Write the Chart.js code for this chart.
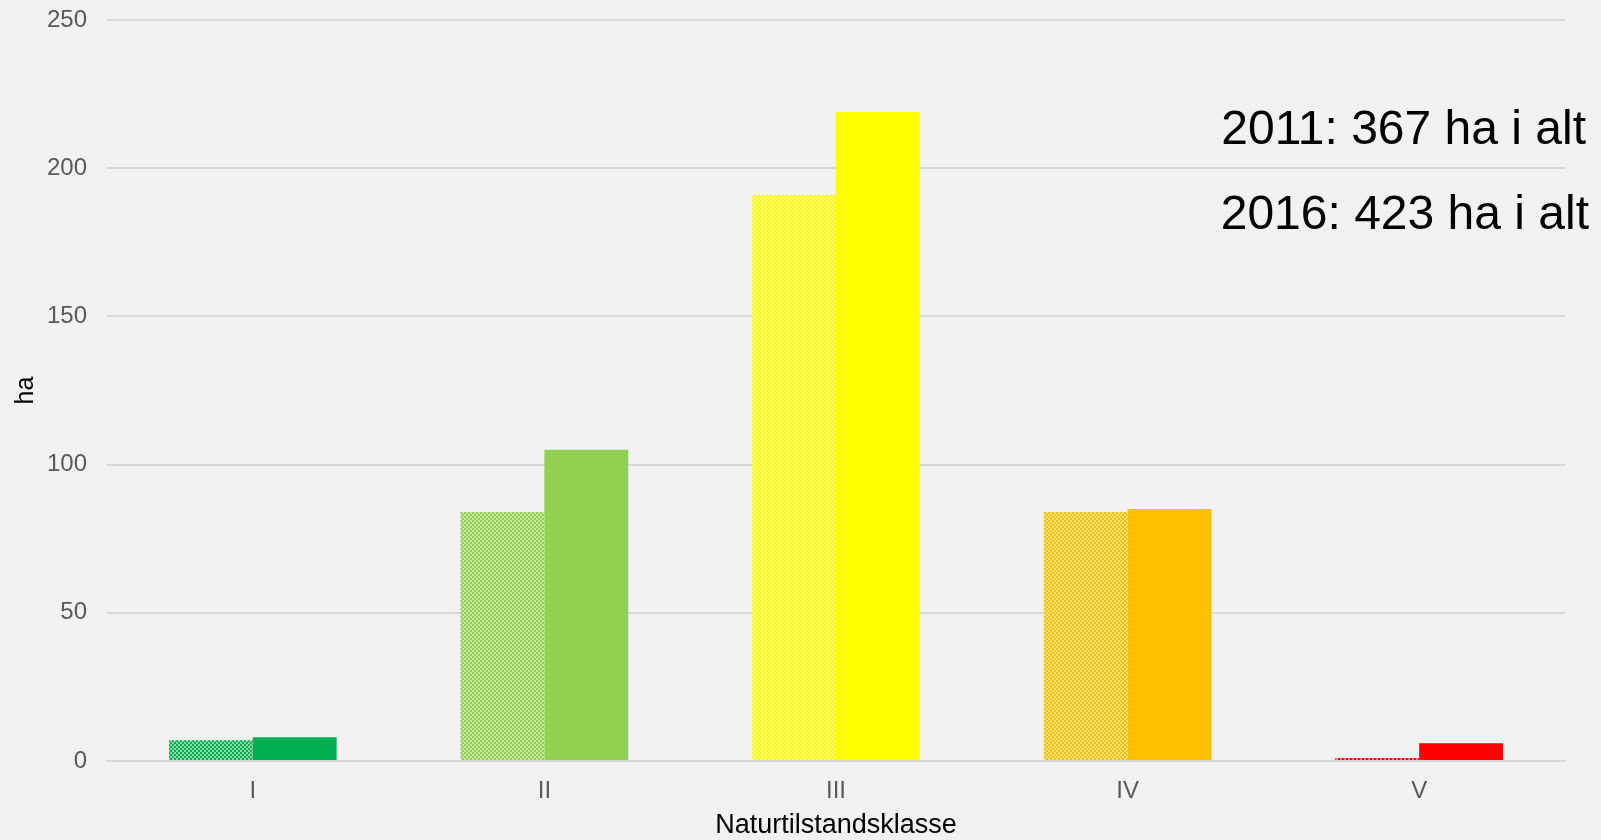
<!DOCTYPE html>
<html>
<head>
<meta charset="utf-8">
<script src="https://cdn.jsdelivr.net/npm/chart.js@4/dist/chart.umd.min.js"></script>
<style>
  html, body { margin: 0; padding: 0; background: #f2f2f2; }
  #wrap { width: 1601px; height: 840px; position: relative; }
</style>
</head>
<body>
<div id="wrap"><canvas id="naturChart"></canvas></div>
<script>
// Data
const categories = ['I', 'II', 'III', 'IV', 'V'];
const values2011 = [7, 84, 191, 84, 1];
const values2016 = [8, 105, 219, 85, 6];
const classColors = ['#00B050', '#92D050', '#FFFF00', '#FFC000', '#FF0000'];
const yTicks = [0, 50, 100, 150, 200, 250];
const notes = ['2011: 367 ha i alt', '2016: 423 ha i alt'];

// Ternet mønster til 2011-søjlerne
function makePattern(color) {
  const c = document.createElement('canvas');
  c.width = 4; c.height = 4;
  const g = c.getContext('2d');
  g.fillStyle = '#f7f7f0';
  g.fillRect(0, 0, 4, 4);
  g.fillStyle = color;
  g.fillRect(0, 0, 2, 2);
  g.fillRect(2, 2, 2, 2);
  g.globalAlpha = 0.45;
  g.fillRect(2, 0, 2, 2);
  g.fillRect(0, 2, 2, 2);
  return g.createPattern(c, 'repeat');
}

// Tekst oppe til højre
const notePlugin = {
  id: 'notes',
  afterDraw(chart) {
    const g = chart.ctx;
    g.save();
    g.font = '48px "Liberation Sans", Arial, sans-serif';
    g.fillStyle = '#000000';
    g.textAlign = 'right';
    g.textBaseline = 'alphabetic';
    g.fillText(notes[0], 1586, 144);
    g.fillText(notes[1], 1589, 229);
    g.restore();
  }
};

const fontFam = '"Liberation Sans", Arial, sans-serif';

const ctx = document.getElementById('naturChart').getContext('2d');
const chart = new Chart(ctx, {
  type: 'bar',
  data: {
    labels: categories,
    datasets: [
      {
        label: '2011',
        data: values2011,
        backgroundColor: classColors.map(makePattern),
        borderWidth: 0
      },
      {
        label: '2016',
        data: values2016,
        backgroundColor: classColors,
        borderWidth: 0
      }
    ]
  },
  options: {
    responsive: true,
    maintainAspectRatio: false,
    animation: false,
    categoryPercentage: 0.575,
    barPercentage: 1.0,
    layout: { padding: { top: 20, right: 36, left: 0, bottom: 0 } },
    scales: {
      x: {
        afterFit(axis) { axis.height = 79; },
        grid: { display: false, drawTicks: false },
        border: { color: '#d9d9d9', width: 2 },
        ticks: {
          color: '#595959',
          font: { family: fontFam, size: 24 },
          padding: 16
        },
        title: {
          display: true,
          text: 'Naturtilstandsklasse',
          color: '#000000',
          font: { family: fontFam, size: 27, lineHeight: 1.1 },
          padding: { top: 0, bottom: 0 }
        }
      },
      y: {
        min: 0,
        max: 250,
        afterBuildTicks(axis) { axis.ticks = yTicks.map(v => ({ value: v })); },
        afterFit(axis) { axis.width = 107; axis.paddingTop = 0; },
        grid: { color: '#d9d9d9', lineWidth: 2, drawTicks: false },
        border: { display: false },
        ticks: {
          color: '#595959',
          font: { family: fontFam, size: 24 },
          padding: 20
        },
        title: {
          display: true,
          text: 'ha',
          color: '#000000',
          font: { family: fontFam, size: 25 },
          padding: { top: 11, bottom: 0 }
        }
      }
    },
    plugins: {
      legend: { display: false },
      tooltip: { enabled: false }
    }
  },
  plugins: [notePlugin]
});
</script>
</body>
</html>
